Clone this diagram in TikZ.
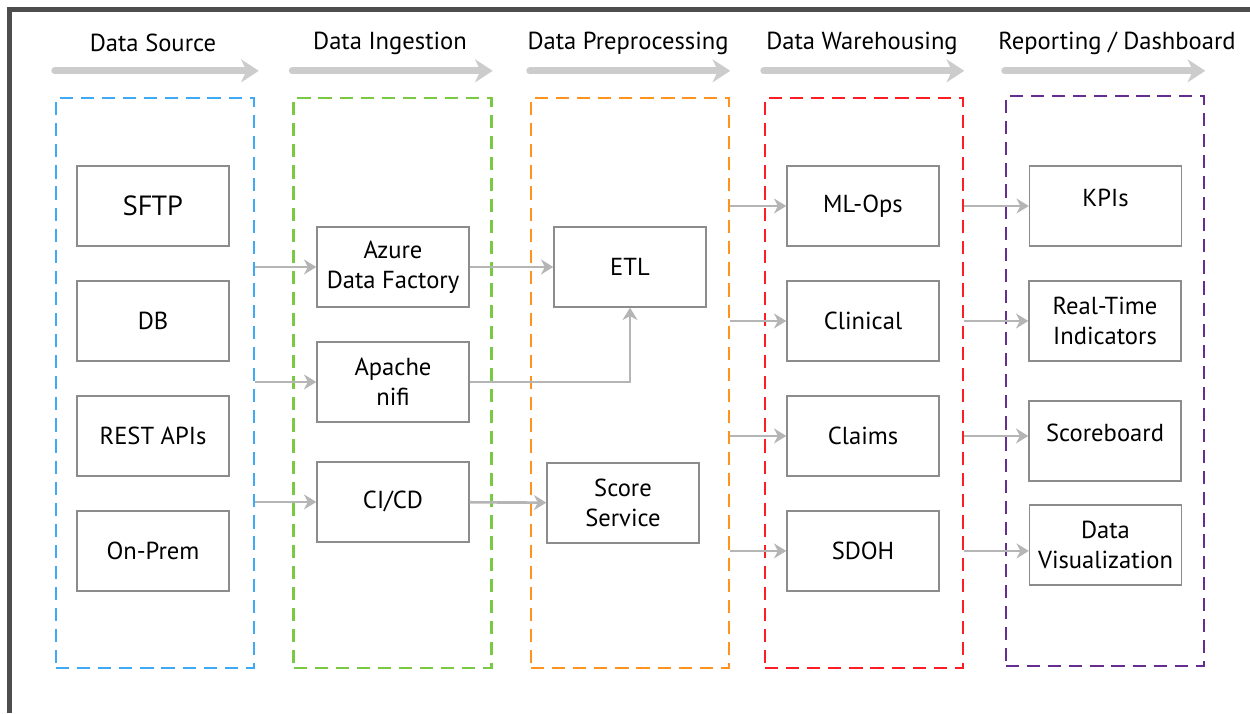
\documentclass[tikz,border=0pt]{standalone}
\usepackage{fontspec}
\setmainfont{PT Sans}
\newfontfamily\sftpfont{Open Sans}
\usetikzlibrary{positioning, arrows.meta}

\definecolor{srcblue}{HTML}{3FA9F5}
\definecolor{ingestgreen}{HTML}{7AC943}
\definecolor{preorange}{HTML}{FF931E}
\definecolor{whred}{HTML}{FF1D25}
\definecolor{reppurple}{HTML}{662D91}
\definecolor{framegray}{HTML}{4D4D4D}
\definecolor{headgray}{HTML}{CCCCCC}
\definecolor{linkgray}{HTML}{B5B5B5}
\definecolor{boxgray}{HTML}{8C8C8C}

\begin{document}
\begin{tikzpicture}[x=0.02cm, y=-0.02cm, node distance=2.3cm, on grid]
        \tikzset{font=\fontsize{14}{17}\selectfont}
        % Styles for stages, boxes and arrows
        \tikzstyle{stage}=[draw, line width=1.4pt, dash pattern=on 7.5pt off 4.5pt,
                minimum width=3.96cm, minimum height=11.4cm]
        \tikzstyle{box}=[draw=boxgray, line width=0.8pt, minimum width=3.04cm,
                minimum height=1.6cm, align=center]
        \tikzstyle{stagearrow}=[-{Stealth[length=10pt,width=13pt,inset=3pt]},
                draw=headgray, line width=4pt, line cap=round]
        \tikzstyle{link}=[-{Stealth[length=7pt,width=8.5pt,inset=2.2pt]},
                color=linkgray, line width=1.5pt]

        \useasboundingbox (0,0) rectangle (1250,713);
        \draw[framegray, line width=2.3pt] (9.5,713) -- (9.5,9.5) -- (1250,9.5);

        % Stages
        \node[stage, srcblue] (src) at (155,383) {};
        \node[stage, ingestgreen] (ing) at (392.5,383) {};
        \node[stage, preorange] (pre) at (630,383) {};
        \node[stage, whred] (wh) at (864,383) {};
        \node[stage, reppurple] (rep) at (1105,381) {};

        \node (t_src) at (153,43) {Data Source};
        \node (t_ing) at (390,43) {Data Ingestion};
        \node (t_pre) at (628,43) {Data Preprocessing};
        \node (t_wh) at (862,43) {Data Warehousing};
        \node (t_rep) at (1117,43) {Reporting / Dashboard};

        \draw[stagearrow] ([yshift=0.52cm]src.north west) -- ([yshift=0.52cm,xshift=2pt]src.north east);
        \draw[stagearrow] ([yshift=0.52cm]ing.north west) -- ([yshift=0.52cm]ing.north east);
        \draw[stagearrow] ([yshift=0.52cm]pre.north west) -- ([yshift=0.52cm]pre.north east);
        \draw[stagearrow] ([yshift=0.52cm]wh.north west) -- ([yshift=0.52cm]wh.north east);
        \draw[stagearrow] ([yshift=0.48cm]rep.north west) -- ([yshift=0.48cm]rep.north east);

        % Data source
        \node[box, font=\sftpfont\fontsize{15.5}{18}\selectfont] (sftp) at (153,206) {SFTP};
        \node[box] (db) [below=of sftp] {DB};
        \node[box] (rest) [below=of db] {REST APIs};
        \node[box] (onprem) [below=of rest] {On-Prem};

        % Ingestion
        \node[box] (azure) at (393,267) {Azure\\Data Factory};
        \node[box] (nifi) [below=of azure] {Apache\\nifi};
        \node[box] (cicd) [below=2.4cm of nifi] {CI/CD};

        % Preprocessing
        \node[box] (etl) at (630,267) {ETL};
        \node[box] (score) at (623,503) {Score\\Service};

        % Warehousing
        \node[box] (mlops) at (863,206) {ML-Ops};
        \node[box] (clinical) [below=of mlops] {Clinical};
        \node[box] (claims) [below=of clinical] {Claims};
        \node[box] (sdoh) [below=of claims] {SDOH};

        % Reporting
        \node[box, text depth=0.32cm] (kpi) at (1105.5,206) {KPIs};
        \node[box] (rti) at (1105,321) {Real-Time\\Indicators};
        \node[box, text depth=0.32cm] (board) at (1105,441) {Scoreboard};
        \node[box] (viz) at (1105.5,545) {Data\\Visualization};

        \path[link]
        (src.east |- azure) edge (azure)
        (src.east |- nifi) edge (nifi)
        (src.east |- cicd) edge (cicd)
        (azure) edge (etl)
        (cicd) edge (score);
        \draw[link] (nifi.east) -| (etl.south);

        \draw[link] (pre.east |- mlops) -- (mlops);
        \draw[link] (pre.east |- clinical) -- (clinical);
        \draw[link] (pre.east |- claims) -- (claims);
        \draw[link] (pre.east |- sdoh) -- (sdoh);
        \draw[link] (wh.east |- mlops) -- (mlops -| kpi.west);
        \draw[link] (wh.east |- clinical) -- (clinical -| rti.west);
        \draw[link] (wh.east |- claims) -- (claims -| board.west);
        \draw[link] (wh.east |- sdoh) -- (sdoh -| viz.west);
    \end{tikzpicture}
\end{document}
